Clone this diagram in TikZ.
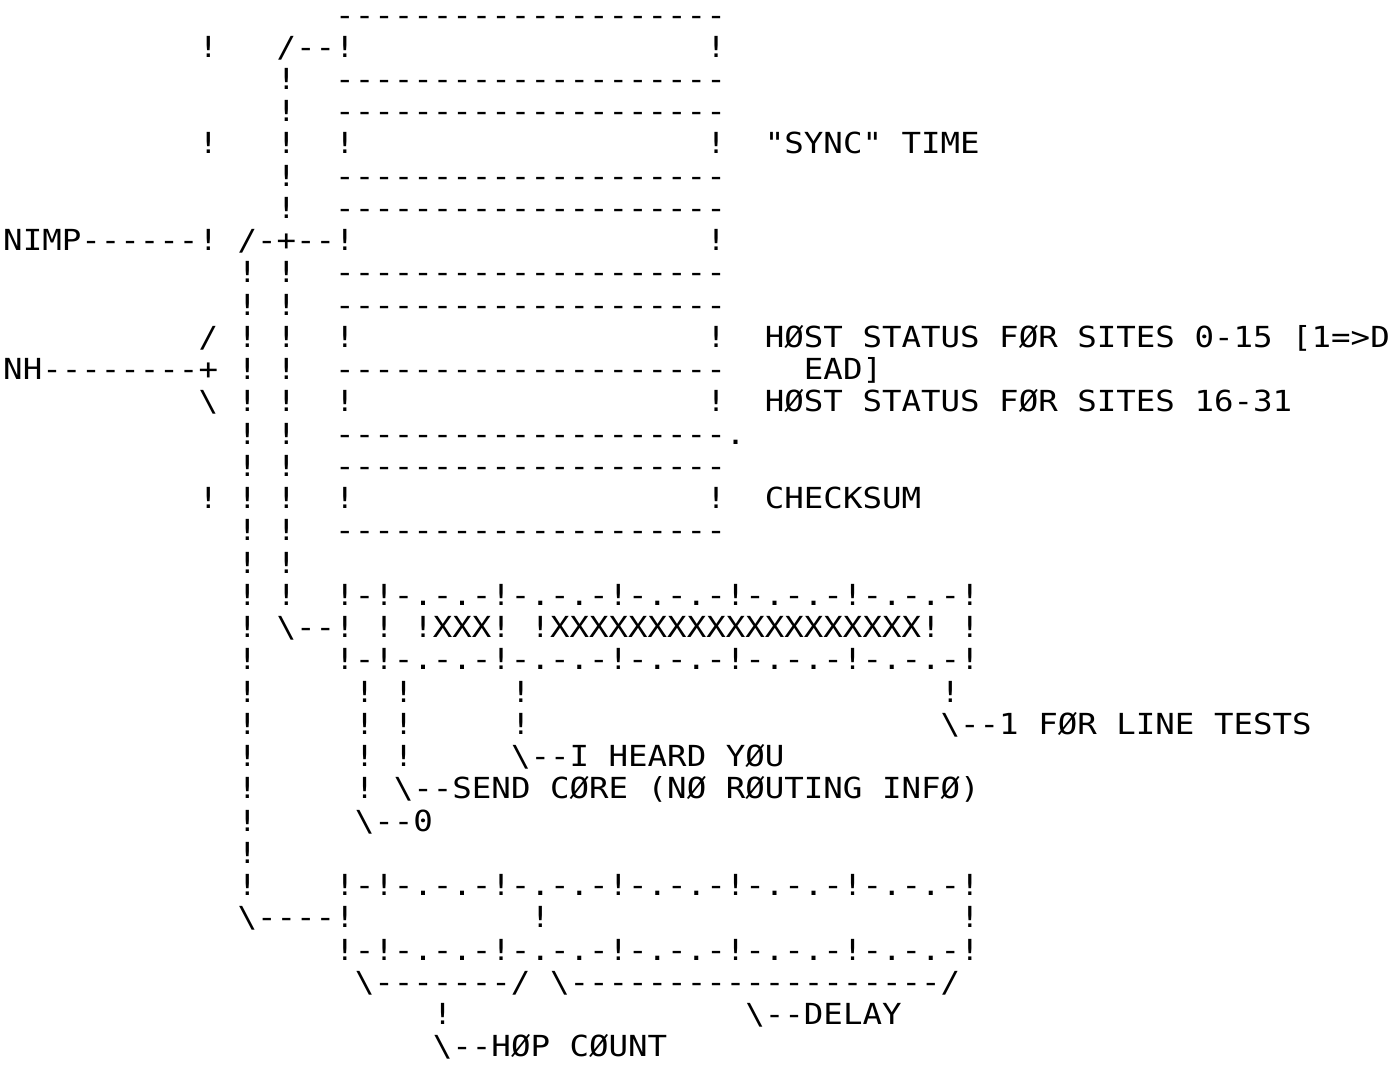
\documentclass[tikz,border=0pt]{standalone}
\usepackage{fontspec}
\setmonofont{DejaVu Sans Mono}[FakeStretch=1.1186]

\begin{document}
\begin{tikzpicture}[x=9.765pt, y=-16.125pt,
	ascii/.style={anchor=base west, inner sep=0pt, outer sep=0pt,
		font=\ttfamily\fontsize{14.5pt}{17pt}\selectfont}]

	% Page of the listing
	\useasboundingbox (0,0) rectangle (71.38,33.30);

	\begin{scope}[shift={(0.166,0.775)}]

	% Header words as dashed rules
	\foreach \r in {0,2,3,5,6,8,9,11,13,14,16}
		\node[ascii] (rule\r) at (17,\r) {--------------------};
	\node[ascii] (speck) at (37,13) {.};

	% Walls of the words
	\foreach \r in {4,10,12,15}
		\node[ascii] (lwall\r) at (17,\r) {!};
	\foreach \r in {1,4,7,10,12,15}
		\node[ascii] (rwall\r) at (36,\r) {!};

	% NIMP bracket
	\foreach \r in {1,4,15}
		\node[ascii] (nimpbar\r) at (10,\r) {!};
	\node[ascii] (nimp) at (0,7) {NIMP------!};
	\node[ascii] (nimpjoin) at (12,7) {/-+--!};

	% NH bracket
	\node[ascii] (nhup) at (10,10) {/};
	\node[ascii] (nh) at (0,11) {NH--------+};
	\node[ascii] (nhdown) at (10,12) {\textbackslash};

	% Link lines down the left side
	\node[ascii] (linktop) at (14,1) {/--!};
	\foreach \r in {2,3,4,5,6}
		\node[ascii] (linka\r) at (14,\r) {!};
	\foreach \r in {8,9,10,11,12,13,14,15,16,17,18}
		\node[ascii] (linkb\r) at (14,\r) {!};
	\foreach \r in {8,9,10,11,12,13,14,15,16,17,18,19,20,21,22,23,24,25,26,27}
		\node[ascii] (linkc\r) at (12,\r) {!};

	% Field names
	\node[ascii] (sync) at (39,4) {"SYNC" TIME};
	\node[ascii] (host1) at (39,10) {HØST STATUS FØR SITES 0-15 [1=>D};
	\node[ascii] (host1b) at (41,11) {EAD]};
	\node[ascii] (host2) at (39,12) {HØST STATUS FØR SITES 16-31};
	\node[ascii] (cksum) at (39,15) {CHECKSUM};

	% Control word
	\node[ascii] (ctltop) at (17,18) {!-!-.-.-!-.-.-!-.-.-!-.-.-!-.-.-!};
	\node[ascii] (ctllink) at (14,19) {\textbackslash--!};
	\node[ascii] (ctlbit) at (19,19) {!};
	\node[ascii] (ctlxa) at (21,19) {!XXX!};
	\node[ascii] (ctlxb) at (27,19) {!XXXXXXXXXXXXXXXXXXX!};
	\node[ascii] (ctlend) at (49,19) {!};
	\node[ascii] (ctlbot) at (17,20) {!-!-.-.-!-.-.-!-.-.-!-.-.-!-.-.-!};

	% Pointers to the flag bits
	\foreach \r in {21,22,23,24}
		\node[ascii] (pzero\r) at (18,\r) {!};
	\foreach \r in {21,22,23}
		\node[ascii] (pcore\r) at (20,\r) {!};
	\foreach \r in {21,22}
		\node[ascii] (pheard\r) at (26,\r) {!};
	\node[ascii] (ptest) at (48,21) {!};
	\node[ascii] (linetest) at (48,22) {\textbackslash--1 FØR LINE TESTS};
	\node[ascii] (heard) at (26,23) {\textbackslash--I HEARD YØU};
	\node[ascii] (core) at (20,24) {\textbackslash--SEND CØRE (NØ RØUTING INFØ)};
	\node[ascii] (zero) at (18,25) {\textbackslash--0};

	% Routing word
	\node[ascii] (rtetop) at (17,27) {!-!-.-.-!-.-.-!-.-.-!-.-.-!-.-.-!};
	\node[ascii] (rtelink) at (12,28) {\textbackslash----!};
	\node[ascii] (rtemid) at (27,28) {!};
	\node[ascii] (rteend) at (49,28) {!};
	\node[ascii] (rtebot) at (17,29) {!-!-.-.-!-.-.-!-.-.-!-.-.-!-.-.-!};
	\node[ascii] (hopspan) at (18,30) {\textbackslash-------/};
	\node[ascii] (delayspan) at (28,30) {\textbackslash-------------------/};
	\node[ascii] (hopstem) at (22,31) {!};
	\node[ascii] (delay) at (38,31) {\textbackslash--DELAY};
	\node[ascii] (hop) at (22,32) {\textbackslash--HØP CØUNT};

	\end{scope}

\end{tikzpicture}
\end{document}
